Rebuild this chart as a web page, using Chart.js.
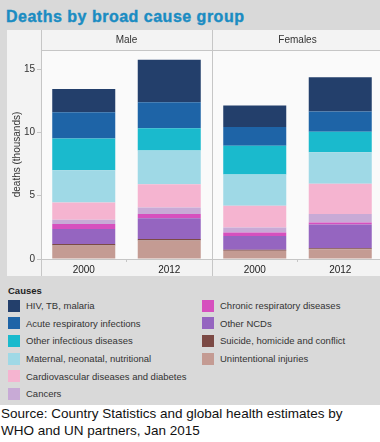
<!DOCTYPE html>
<html>
<head>
<meta charset="utf-8">
<script src="https://cdn.jsdelivr.net/npm/chart.js@4.4.1/dist/chart.umd.min.js"></script>
<style>
  html, body { margin: 0; padding: 0; width: 380px; height: 442px; overflow: hidden; background: #fff; font-family: "Liberation Sans", Arial, sans-serif; }
  #frame { position: absolute; left: 0; top: 0; width: 380px; height: 405px; background: #d9d9d9; }
  #title { position: absolute; left: 6px; top: 8.5px; font-size: 16px; line-height: 16px; font-weight: bold; letter-spacing: 0.5px; color: #1b8cc2; -webkit-text-stroke: 0.4px #1b8cc2; white-space: nowrap; }
  #box { position: absolute; left: 7px; top: 30px; width: 376px; height: 246px; }
  #legend { position: absolute; left: 8px; top: 285px; width: 372px; color: #333; font-size: 9.5px; }
  #legend .head { font-weight: bold; height: 12px; line-height: 12px; color: #222; }
  #legend .grid { display: grid; grid-template-columns: 194px 178px; grid-template-rows: repeat(6, 17.6px); grid-auto-flow: column; }
  #legend .item { display: flex; align-items: center; white-space: nowrap; }
  #legend .sw { width: 12px; height: 12px; margin-right: 6px; flex: none; }
  #source { position: absolute; left: 1px; top: 404.5px; font-size: 13.5px; line-height: 17px; color: #111; white-space: nowrap; }
</style>
</head>
<body>
<div id="frame"></div>
<div id="title">Deaths by broad cause group</div>
<div id="box"><canvas id="chart"></canvas></div>
<div id="legend"><div class="head">Causes</div><div class="grid" id="legendGrid"></div></div>
<div id="source">Source: Country Statistics and global health estimates by<br>WHO and UN partners, Jan 2015</div>

<script>
// panels and bars: Male 2000, Male 2012, Females 2000, Females 2012
const groups = ["Male", "Females"];
const years = ["2000", "2012", "2000", "2012"];

// causes in legend order (top of the stack first)
const causes = [
  "HIV, TB, malaria",
  "Acute respiratory infections",
  "Other infectious diseases",
  "Maternal, neonatal, nutritional",
  "Cardiovascular diseases and diabetes",
  "Cancers",
  "Chronic respiratory diseases",
  "Other NCDs",
  "Suicide, homicide and conflict",
  "Unintentional injuries"
];
const colors = [
  "#233f6b", "#1e64a7", "#1abacd", "#9fd9e6", "#f5b4d0",
  "#c8aad6", "#d650be", "#9565c0", "#7c4a45", "#c49b93"
];

// deaths (thousands)
const hivTbMalaria   = [1.84, 3.36, 1.69, 2.70];
const acuteResp      = [2.07, 2.05, 1.49, 1.61];
const otherInfect    = [2.50, 1.76, 2.26, 1.62];
const maternal       = [2.54, 2.65, 2.47, 2.47];
const cardio         = [1.37, 1.84, 1.73, 2.39];
const cancers        = [0.34, 0.52, 0.38, 0.68];
const chronicResp    = [0.40, 0.34, 0.28, 0.16];
const otherNcds      = [1.18, 1.63, 1.08, 1.88];
const suicide        = [0.12, 0.12, 0.08, 0.08];
const unintentional  = [1.06, 1.46, 0.66, 0.76];

const yTicks = [0, 5, 10, 15];

const values = [hivTbMalaria, acuteResp, otherInfect, maternal, cardio,
  cancers, chronicResp, otherNcds, suicide, unintentional];

// legend
const grid = document.getElementById("legendGrid");
causes.forEach((c, i) => {
  const item = document.createElement("div");
  item.className = "item";
  item.innerHTML = `<span class="sw" style="background:${colors[i]}"></span><span>${c}</span>`;
  grid.appendChild(item);
});

// first dataset sits at the bottom of the stack
const datasets = causes.map((c, i) => ({
  label: c,
  data: values[i],
  backgroundColor: colors[i],
  borderWidth: 0,
  barPercentage: 0.737,
  categoryPercentage: 1
})).reverse();

const lineColor = "#c6c6c6";

const facetPanels = {
  id: "facetPanels",
  beforeDraw(chart) {
    const { ctx, chartArea: a, width, height } = chart;
    ctx.save();
    ctx.fillStyle = "#f3f3f3";
    ctx.fillRect(0, 0, width, height);
    ctx.fillStyle = "#fafafa";
    ctx.fillRect(a.left, a.top, a.right - a.left, a.bottom - a.top);
    ctx.restore();
  },
  afterDraw(chart) {
    const { ctx, chartArea: a, height, scales } = chart;
    const x = scales.x;
    const mid = (x.getPixelForValue(1) + x.getPixelForValue(2)) / 2;
    ctx.save();
    ctx.strokeStyle = lineColor;
    ctx.lineWidth = 1;
    ctx.beginPath();
    [a.left, mid].forEach(px => {
      const p = Math.round(px) + 0.5;
      ctx.moveTo(p, 0);
      ctx.lineTo(p, height);
    });
    ctx.moveTo(a.left, Math.round(a.top) + 0.5);
    ctx.lineTo(a.right, Math.round(a.top) + 0.5);
    ctx.stroke();

    ctx.fillStyle = "#333";
    ctx.font = "10px 'Liberation Sans', Arial, sans-serif";
    ctx.textAlign = "center";
    ctx.textBaseline = "middle";
    ctx.fillText(groups[0], (a.left + mid) / 2, a.top / 2 + 0.5);
    ctx.fillText(groups[1], (mid + a.right) / 2, a.top / 2 + 0.5);
    ctx.restore();
  }
};

new Chart(document.getElementById("chart"), {
  type: "bar",
  data: { labels: years, datasets },
  options: {
    responsive: true,
    maintainAspectRatio: false,
    animation: false,
    layout: { padding: { top: 20, right: 0, left: 0, bottom: 0 } },
    plugins: {
      legend: { display: false },
      tooltip: { enabled: false }
    },
    scales: {
      x: {
        stacked: true,
        grid: { offset: true, drawOnChartArea: false, tickLength: 3, color: lineColor },
        border: { display: true, color: lineColor },
        ticks: { color: "#222", font: { family: "'Liberation Sans', Arial, sans-serif", size: 10 }, padding: 2, maxRotation: 0 },
        afterFit(scale) { scale.height = 17; }
      },
      y: {
        stacked: true,
        min: 0,
        max: 16.5,
        grid: { drawOnChartArea: false, tickLength: 4, color: lineColor },
        border: { display: true, color: lineColor },
        ticks: {
          stepSize: 5,
          includeBounds: false,
          color: "#333",
          padding: 2,
          font: { family: "'Liberation Sans', Arial, sans-serif", size: 10 }
        },
        afterBuildTicks(scale) { scale.ticks = yTicks.map(v => ({ value: v })); },
        title: {
          display: true,
          text: "deaths (thousands)",
          color: "#333",
          padding: { top: 4, bottom: 0 },
          font: { family: "'Liberation Sans', Arial, sans-serif", size: 10 }
        },
        afterFit(scale) { scale.width = 34; }
      }
    }
  },
  plugins: [facetPanels]
});
</script>
</body>
</html>
